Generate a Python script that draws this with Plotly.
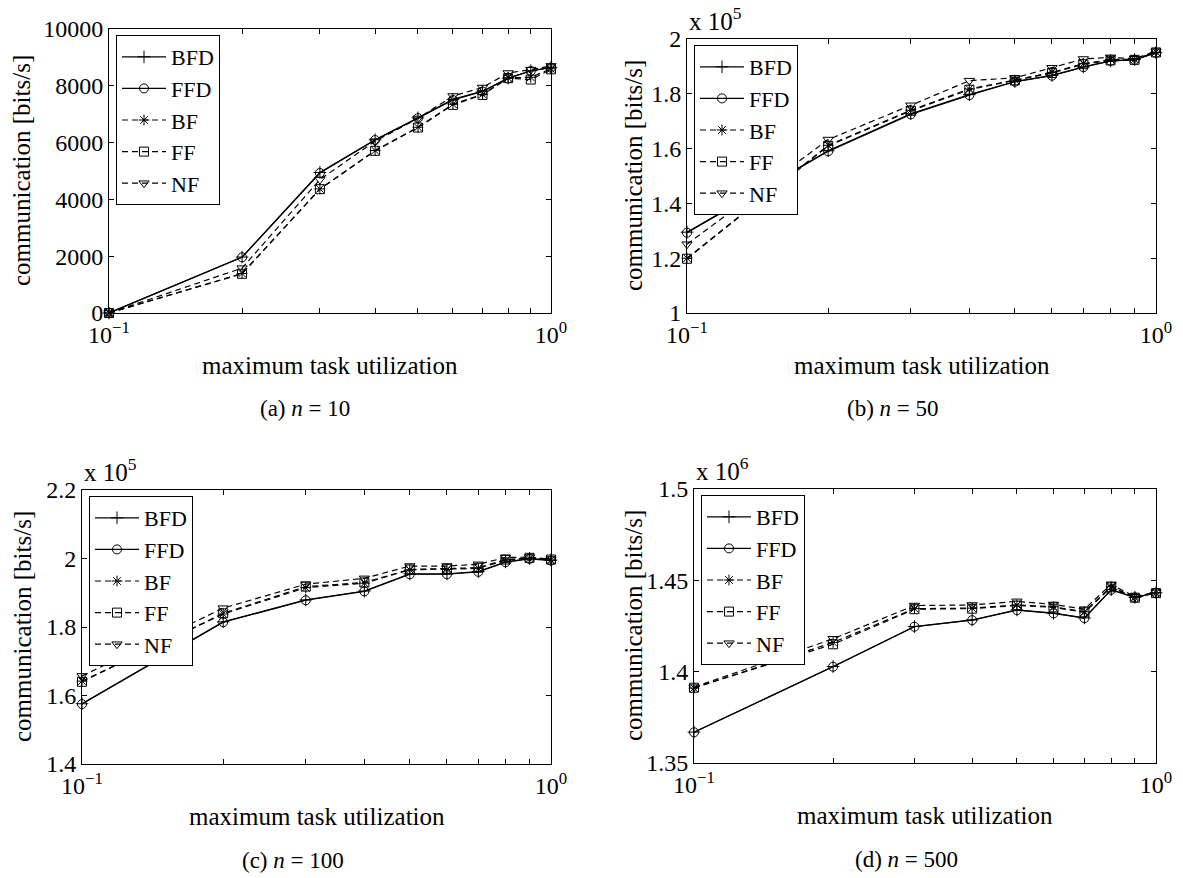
import plotly.graph_objects as go

W, H = 1183, 878

# ---------------- data ----------------
x_util = [0.1, 0.2, 0.3, 0.4, 0.5, 0.6, 0.7, 0.8, 0.9, 1.0]
series_names = ["BFD", "FFD", "BF", "FF", "NF"]

# (a) n = 10   [bits/s]
a_BFD = [0, 1970, 4950, 6100, 6870, 7520, 7810, 8270, 8530, 8650]
a_FFD = [0, 1960, 4930, 6090, 6860, 7500, 7800, 8260, 8520, 8640]
a_BF = [0, 1390, 4370, 5720, 6540, 7350, 7700, 8280, 8300, 8600]
a_FF = [0, 1380, 4360, 5710, 6530, 7330, 7680, 8270, 8220, 8580]
a_NF = [0, 1580, 4700, 6050, 6850, 7640, 7940, 8450, 8570, 8700]

# (b) n = 50   [x 10^5 bits/s]
b_BFD = [1.295, 1.592, 1.727, 1.797, 1.845, 1.867, 1.898, 1.920, 1.925, 1.950]
b_FFD = [1.293, 1.590, 1.725, 1.795, 1.844, 1.866, 1.897, 1.920, 1.924, 1.949]
b_BF = [1.200, 1.612, 1.740, 1.818, 1.850, 1.878, 1.910, 1.925, 1.926, 1.952]
b_FF = [1.198, 1.610, 1.738, 1.815, 1.849, 1.876, 1.908, 1.922, 1.924, 1.951]
b_NF = [1.251, 1.633, 1.758, 1.848, 1.858, 1.895, 1.927, 1.933, 1.928, 1.955]

# (c) n = 100  [x 10^5 bits/s]
c_BFD = [1.576, 1.815, 1.879, 1.905, 1.955, 1.955, 1.962, 1.990, 2.000, 1.995]
c_FFD = [1.575, 1.814, 1.878, 1.904, 1.954, 1.954, 1.961, 1.989, 1.999, 1.994]
c_BF = [1.642, 1.838, 1.915, 1.928, 1.967, 1.968, 1.971, 1.995, 2.001, 1.995]
c_FF = [1.640, 1.840, 1.918, 1.930, 1.968, 1.970, 1.973, 1.997, 2.002, 1.997]
c_NF = [1.657, 1.855, 1.925, 1.942, 1.978, 1.978, 1.983, 2.003, 2.004, 1.998]

# (d) n = 500  [x 10^6 bits/s]
d_BFD = [1.3669, 1.4028, 1.4247, 1.4283, 1.4338, 1.4320, 1.4294, 1.4449, 1.4407, 1.4432]
d_FFD = [1.3668, 1.4027, 1.4246, 1.4282, 1.4337, 1.4319, 1.4293, 1.4448, 1.4406, 1.4431]
d_BF = [1.3910, 1.4160, 1.4345, 1.4348, 1.4365, 1.4355, 1.4328, 1.4465, 1.4407, 1.4432]
d_FF = [1.3912, 1.4150, 1.4342, 1.4345, 1.4362, 1.4352, 1.4325, 1.4462, 1.4405, 1.4430]
d_NF = [1.3915, 1.4180, 1.4362, 1.4365, 1.4385, 1.4368, 1.4342, 1.4478, 1.4410, 1.4435]

a_ticks = [0, 2000, 4000, 6000, 8000, 10000]
b_ticks = [1, 1.2, 1.4, 1.6, 1.8, 2]
c_ticks = [1.4, 1.6, 1.8, 2, 2.2]
d_ticks = [1.35, 1.4, 1.45, 1.5]
b_tick_text = ["1", "1.2", "1.4", "1.6", "1.8", "2"]
c_tick_text = ["1.4", "1.6", "1.8", "2", "2.2"]
d_tick_text = ["1.35", "1.4", "1.45", "1.5"]
x_tick_vals = x_util
x_tick_text = ["10<sup>−1</sup>", "", "", "", "", "", "", "", "", "10<sup>0</sup>"]

captions = ["(a) <i>n</i> = 10", "(b) <i>n</i> = 50", "(c) <i>n</i> = 100", "(d) <i>n</i> = 500"]
exponents = [None, "x 10<sup>5</sup>", "x 10<sup>5</sup>", "x 10<sup>6</sup>"]
xlabel = "maximum task utilization"
ylabel = "communication [bits/s]"

# ---------------- styles ----------------
FONT = "Liberation Serif"
TICK_SIZE = 24
LABEL_SIZE = 25
LEGEND_SIZE = 22
CAPTION_SIZE = 23
styles = {
    "BFD": dict(dash="solid", symbol="cross-thin-open"),
    "FFD": dict(dash="solid", symbol="circle-open"),
    "BF": dict(dash="6px,4px", symbol="asterisk-open"),
    "FF": dict(dash="6px,4px", symbol="square-open"),
    "NF": dict(dash="6px,4px", symbol="triangle-down-open"),
}

# pixel boxes: left, right, top, bottom
boxes = [
    (109, 551, 29, 313),
    (687, 1156, 39, 313),
    (82, 551, 490, 764),
    (694, 1156, 489, 763),
]
panels = [
    dict(data=[a_BFD, a_FFD, a_BF, a_FF, a_NF], yr=[0, 10000], tv=a_ticks, tt=[str(t) for t in a_ticks]),
    dict(data=[b_BFD, b_FFD, b_BF, b_FF, b_NF], yr=[1, 2], tv=b_ticks, tt=b_tick_text),
    dict(data=[c_BFD, c_FFD, c_BF, c_FF, c_NF], yr=[1.4, 2.2], tv=c_ticks, tt=c_tick_text),
    dict(data=[d_BFD, d_FFD, d_BF, d_FF, d_NF], yr=[1.35, 1.5], tv=d_ticks, tt=d_tick_text),
]

def px(x):
    return x / W

def py(y):
    return 1 - y / H

fig = go.Figure()
layout = dict(
    width=W, height=H, margin=dict(l=0, r=0, t=0, b=0, autoexpand=False),
    paper_bgcolor="white", plot_bgcolor="white",
    font=dict(family=FONT, size=22, color="black"),
    annotations=[],
)

for i, (p, box) in enumerate(zip(panels, boxes)):
    k = "" if i == 0 else str(i + 1)
    l, r, t, b = box
    legname = "legend" + k
    for name, ys in zip(series_names, p["data"]):
        st = styles[name]
        fig.add_trace(go.Scatter(
            x=x_util, y=ys, name=name, mode="lines+markers",
            xaxis="x" + k, yaxis="y" + k, legend=legname,
            line=dict(color="black", width=1.2, dash=st["dash"]),
            marker=dict(symbol=st["symbol"], size=9, color="black",
                        line=dict(color="black", width=1)),
            cliponaxis=False,
        ))
    axcommon = dict(showline=True, linecolor="black", linewidth=1, mirror="ticks",
                    ticks="inside", ticklen=5, tickcolor="black", showgrid=False,
                    zeroline=False, automargin=False,
                    tickfont=dict(family=FONT, size=TICK_SIZE, color="black"))
    layout["xaxis" + k] = dict(axcommon, type="log", range=[-1, 0],
                               domain=[px(l), px(r)], anchor="y" + k,
                               tickmode="array", tickvals=x_tick_vals, ticktext=x_tick_text)
    layout["yaxis" + k] = dict(axcommon, range=p["yr"], domain=[py(b), py(t)],
                               anchor="x" + k, tickmode="array", tickvals=p["tv"], ticktext=p["tt"])
    layout[legname] = dict(x=px(l + 7), y=py(t + 6), xanchor="left", yanchor="top",
                           bordercolor="black", borderwidth=1, bgcolor="white",
                           font=dict(family=FONT, size=LEGEND_SIZE, color="black"),
                           itemwidth=44, tracegroupgap=0)
    # axis labels
    layout["annotations"].append(dict(text=xlabel, x=px((l + r) / 2), y=py(b + 52),
                                      xref="paper", yref="paper", showarrow=False,
                                      xanchor="center", yanchor="middle",
                                      font=dict(family=FONT, size=LABEL_SIZE)))
    lab_x = 22 if l < 600 else 633
    layout["annotations"].append(dict(text=ylabel, x=px(lab_x), y=py((t + b) / 2),
                                      xref="paper", yref="paper", showarrow=False,
                                      textangle=-90, xanchor="center", yanchor="middle",
                                      font=dict(family=FONT, size=LABEL_SIZE)))
    cap_x = [305, 893, 293, 906][i]
    layout["annotations"].append(dict(text=captions[i], x=px(cap_x), y=py(b + 96),
                                      xref="paper", yref="paper", showarrow=False,
                                      xanchor="center", yanchor="middle",
                                      font=dict(family=FONT, size=CAPTION_SIZE)))
    if exponents[i]:
        layout["annotations"].append(dict(text=exponents[i], x=px(l), y=py(t - 2),
                                          xref="paper", yref="paper", showarrow=False,
                                          xanchor="left", yanchor="bottom",
                                          font=dict(family=FONT, size=LABEL_SIZE)))

fig.update_layout(**layout)
fig.write_html("out.html")
